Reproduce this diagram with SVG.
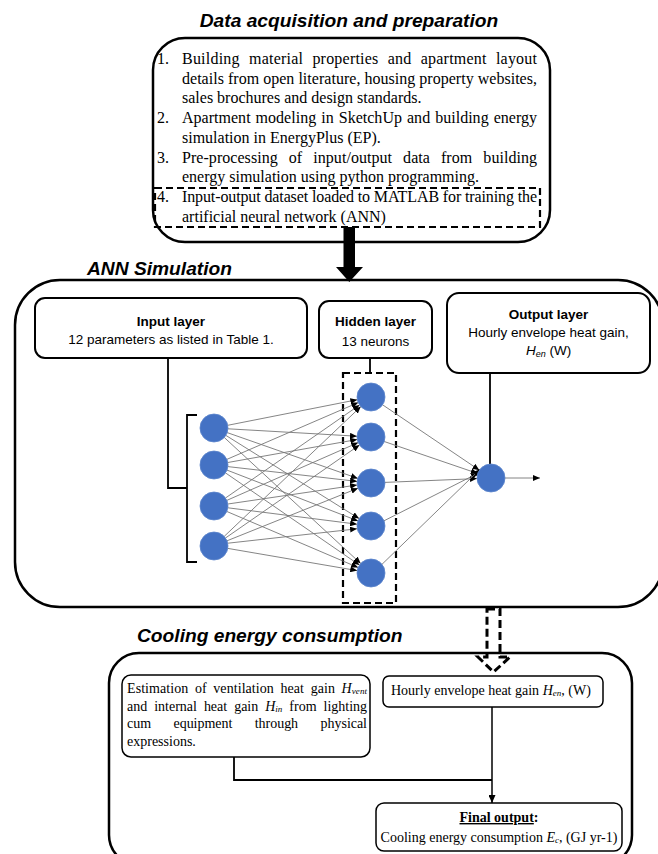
<svg xmlns="http://www.w3.org/2000/svg" width="658" height="854" viewBox="0 0 658 854">
<defs>
<style>
.title{font-family:"Liberation Sans",Arial,sans-serif;font-weight:bold;font-style:italic;font-size:19.2px;fill:#000}
.ser{font-family:"Liberation Serif","Times New Roman",serif;font-size:16px;fill:#000}
.ser2{font-family:"Liberation Serif","Times New Roman",serif;font-size:14px;fill:#000}
.sans{font-family:"Liberation Sans",Arial,sans-serif;font-size:13.5px;fill:#000}
.sansb{font-family:"Liberation Sans",Arial,sans-serif;font-size:13.5px;font-weight:bold;fill:#000}
.big{fill:none;stroke:#000;stroke-width:2.5}
.box{fill:#fff;stroke:#000;stroke-width:2}
.sbox{fill:#fff;stroke:#000;stroke-width:1.5}
.dash{fill:none;stroke:#000;stroke-width:2.2;stroke-dasharray:7 4}
.wire{fill:none;stroke:#000;stroke-width:1.8}
.edge{fill:none;stroke:#777;stroke-width:0.9;marker-end:url(#ah)}
.neuron{fill:#4472C4;stroke:#5b84cc;stroke-width:0.8}
.it{font-style:italic}
</style>
<marker id="ah" markerUnits="userSpaceOnUse" markerWidth="7" markerHeight="6" refX="7" refY="3" orient="auto">
<path d="M0,0 L7,3 L0,6 z" fill="#000"/>
</marker>
<marker id="ah2" markerUnits="userSpaceOnUse" markerWidth="8" markerHeight="7" refX="8" refY="3.5" orient="auto">
<path d="M0,0 L8,3.5 L0,7 z" fill="#000"/>
</marker>
</defs>
<rect width="658" height="854" fill="#fff"/>

<!-- Section 1 -->
<g id="data-acquisition">
<text class="title" x="349" y="27" text-anchor="middle">Data acquisition and preparation</text>
<rect class="big" x="153" y="38" width="397" height="204" rx="32"/>
<text class="ser" x="157" y="64">1.</text>
<text class="ser" x="182" y="64" textLength="355" lengthAdjust="spacing" word-spacing="5">Building material properties and apartment layout</text>
<text class="ser" x="182" y="83.7" textLength="355" lengthAdjust="spacing">details from open literature, housing property websites,</text>
<text class="ser" x="182" y="103.4">sales brochures and design standards.</text>
<text class="ser" x="157" y="123.1">2.</text>
<text class="ser" x="182" y="123.1" textLength="355" lengthAdjust="spacing" word-spacing="1">Apartment modeling in SketchUp and building energy</text>
<text class="ser" x="182" y="142.8">simulation in EnergyPlus (EP).</text>
<text class="ser" x="157" y="162.5">3.</text>
<text class="ser" x="182" y="162.5" textLength="355" lengthAdjust="spacing" word-spacing="7">Pre-processing of input/output data from building</text>
<text class="ser" x="182" y="182.2">energy simulation using python programming.</text>
<g id="item4">
<rect class="dash" x="155" y="188" width="385" height="39"/>
<text class="ser" x="157" y="201.9">4.</text>
<text class="ser" x="182" y="201.9" textLength="355" lengthAdjust="spacing">Input-output dataset loaded to MATLAB for training the</text>
<text class="ser" x="182" y="221.6">artificial neural network (ANN)</text>
</g>
</g>

<!-- Section 2 -->
<g id="ann-simulation">
<text class="title" x="87" y="275">ANN Simulation</text>
<rect class="big" x="15" y="280" width="648" height="327" rx="45"/>
</g>
<g id="input-layer">
<rect class="box" x="35" y="298" width="272" height="60" rx="10"/>
<text class="sansb" x="171" y="326" text-anchor="middle">Input layer</text>
<text class="sans" x="171" y="344" text-anchor="middle">12 parameters as listed in Table 1.</text>
</g>
<g id="hidden-layer">
<rect class="box" x="319" y="301" width="113" height="57" rx="10"/>
<text class="sansb" x="375.5" y="326" text-anchor="middle">Hidden layer</text>
<text class="sans" x="375.5" y="346" text-anchor="middle">13 neurons</text>
</g>
<g id="output-layer">
<rect class="box" x="447" y="293" width="203" height="80" rx="12"/>
<text class="sansb" x="548.5" y="319" text-anchor="middle">Output layer</text>
<text class="sans" x="548.5" y="337" text-anchor="middle">Hourly envelope heat gain,</text>
<text class="sans" x="548.5" y="355" text-anchor="middle"><tspan class="it">H</tspan><tspan class="it" font-size="9" dy="2">en</tspan><tspan dy="-2"> (W)</tspan></text>
</g>
<g id="hidden-dashed-box">
<rect class="dash" x="343" y="373" width="53" height="230" stroke-dasharray="5 3" stroke-width="1.8"/>
</g>

<g id="connectors">
<!-- top thick arrow -->
<path d="M343.5,227 H355 V267 H363 L349.3,282 L336,267 H343.5 Z" fill="#000"/>
<!-- input layer to bracket -->
<path class="wire" d="M168,358 V488 H187"/>
<path class="wire" d="M197,415 H187 V562 H197"/>
<!-- hidden box to dashed box -->
<path class="wire" d="M370,358 V373"/>
<!-- output box to neuron -->
<path class="wire" d="M490,373 V464"/>
<!-- input -> hidden edges -->
<path class="edge" d="M227.7,425.3 L357.3,399.7"/>
<path class="edge" d="M228,428.8 L357,436.2"/>
<path class="edge" d="M227.2,432.6 L357.8,478.4"/>
<path class="edge" d="M225.9,435.4 L359.1,518.6"/>
<path class="edge" d="M224.3,437.5 L360.7,563.5"/>
<path class="edge" d="M226.8,459.4 L358.2,402.6"/>
<path class="edge" d="M227.8,462.5 L357.2,439.5"/>
<path class="edge" d="M227.9,466.6 L357.1,481.4"/>
<path class="edge" d="M227,470.1 L358,520.9"/>
<path class="edge" d="M225.5,472.9 L359.5,565.1"/>
<path class="edge" d="M225.5,498 L359.5,405"/>
<path class="edge" d="M226.8,500.4 L358.2,442.6"/>
<path class="edge" d="M227.9,504 L357.1,485"/>
<path class="edge" d="M227.9,507.8 L357.1,524.2"/>
<path class="edge" d="M226.9,511.5 L358.1,567.5"/>
<path class="edge" d="M224.2,536.4 L360.8,406.6"/>
<path class="edge" d="M225.5,538 L359.5,445"/>
<path class="edge" d="M227,540.8 L358,488.2"/>
<path class="edge" d="M227.9,543.2 L357.1,528.8"/>
<path class="edge" d="M227.8,548.4 L357.2,570.6"/>
<!-- hidden -> output edges -->
<path class="edge" d="M382.6,404.8 L479.4,470.2"/>
<path class="edge" d="M384.2,441.5 L477.8,473.5"/>
<path class="edge" d="M385,482.4 L477,478.6"/>
<path class="edge" d="M384,520.8 L478,473.2"/>
<path class="edge" d="M382,564.3 L480,469.3"/>
<path class="edge" d="M505,478 L540,478" stroke="#000"/>
<!-- dashed block arrow -->
<path d="M487,609 H500 V657 H510 L493.5,672 L478,657 H487 Z" fill="none" stroke="#000" stroke-width="3" stroke-dasharray="8 4"/>
<!-- cooling section connectors -->
<path class="wire" d="M234,757 V780 H492" stroke-width="1.5"/>
<path d="M492,707 V803" fill="none" stroke="#000" stroke-width="1.5" marker-end="url(#ah2)"/>
</g>

<g id="neurons">
<g id="input-neurons">
<circle class="neuron" cx="214" cy="428" r="14"/>
<circle class="neuron" cx="214" cy="465" r="14"/>
<circle class="neuron" cx="214" cy="506" r="14"/>
<circle class="neuron" cx="214" cy="546" r="14"/>
</g>
<g id="hidden-neurons">
<circle class="neuron" cx="371" cy="397" r="14"/>
<circle class="neuron" cx="371" cy="437" r="14"/>
<circle class="neuron" cx="371" cy="483" r="14"/>
<circle class="neuron" cx="371" cy="526" r="14"/>
<circle class="neuron" cx="371" cy="573" r="14"/>
</g>
<g id="output-neuron">
<circle class="neuron" cx="491" cy="478" r="14"/>
</g>
</g>

<!-- Section 3 -->
<g id="cooling-energy">
<text class="title" x="137" y="642" font-size="18.7px">Cooling energy consumption</text>
<rect class="big" x="109" y="653" width="523" height="212" rx="30"/>
</g>
<g id="estimation">
<rect class="sbox" x="122" y="675" width="248" height="82" rx="9"/>
<text class="ser2" x="127" y="693" textLength="240" lengthAdjust="spacing" word-spacing="3">Estimation of ventilation heat gain <tspan class="it">H</tspan><tspan class="it" font-size="9" dy="1">vent</tspan></text>
<text class="ser2" x="127" y="711" textLength="240" lengthAdjust="spacing" word-spacing="3.5">and internal heat gain <tspan class="it">H</tspan><tspan class="it" font-size="9" dy="1">in</tspan><tspan dy="-1"> from lighting</tspan></text>
<text class="ser2" x="127" y="728" textLength="240" lengthAdjust="spacing" word-spacing="19">cum equipment through physical</text>
<text class="ser2" x="127" y="746">expressions.</text>
</g>
<g id="hourly">
<rect class="sbox" x="383" y="676" width="220" height="31" rx="6"/>
<text class="ser2" x="391" y="695">Hourly envelope heat gain <tspan class="it">H</tspan><tspan class="it" font-size="9" dy="1">en</tspan><tspan dy="-1">, (W)</tspan></text>
</g>
<g id="final-output">
<rect class="sbox" x="376" y="803" width="246" height="48" rx="8"/>
<text class="ser2" x="499" y="822" text-anchor="middle" font-weight="bold"><tspan text-decoration="underline">Final output</tspan>:</text>
<text class="ser2" x="499" y="842" text-anchor="middle">Cooling energy consumption <tspan class="it">E</tspan><tspan class="it" font-size="9" dy="1">c</tspan><tspan dy="-1">, (GJ yr-1)</tspan></text>
</g>
</svg>
